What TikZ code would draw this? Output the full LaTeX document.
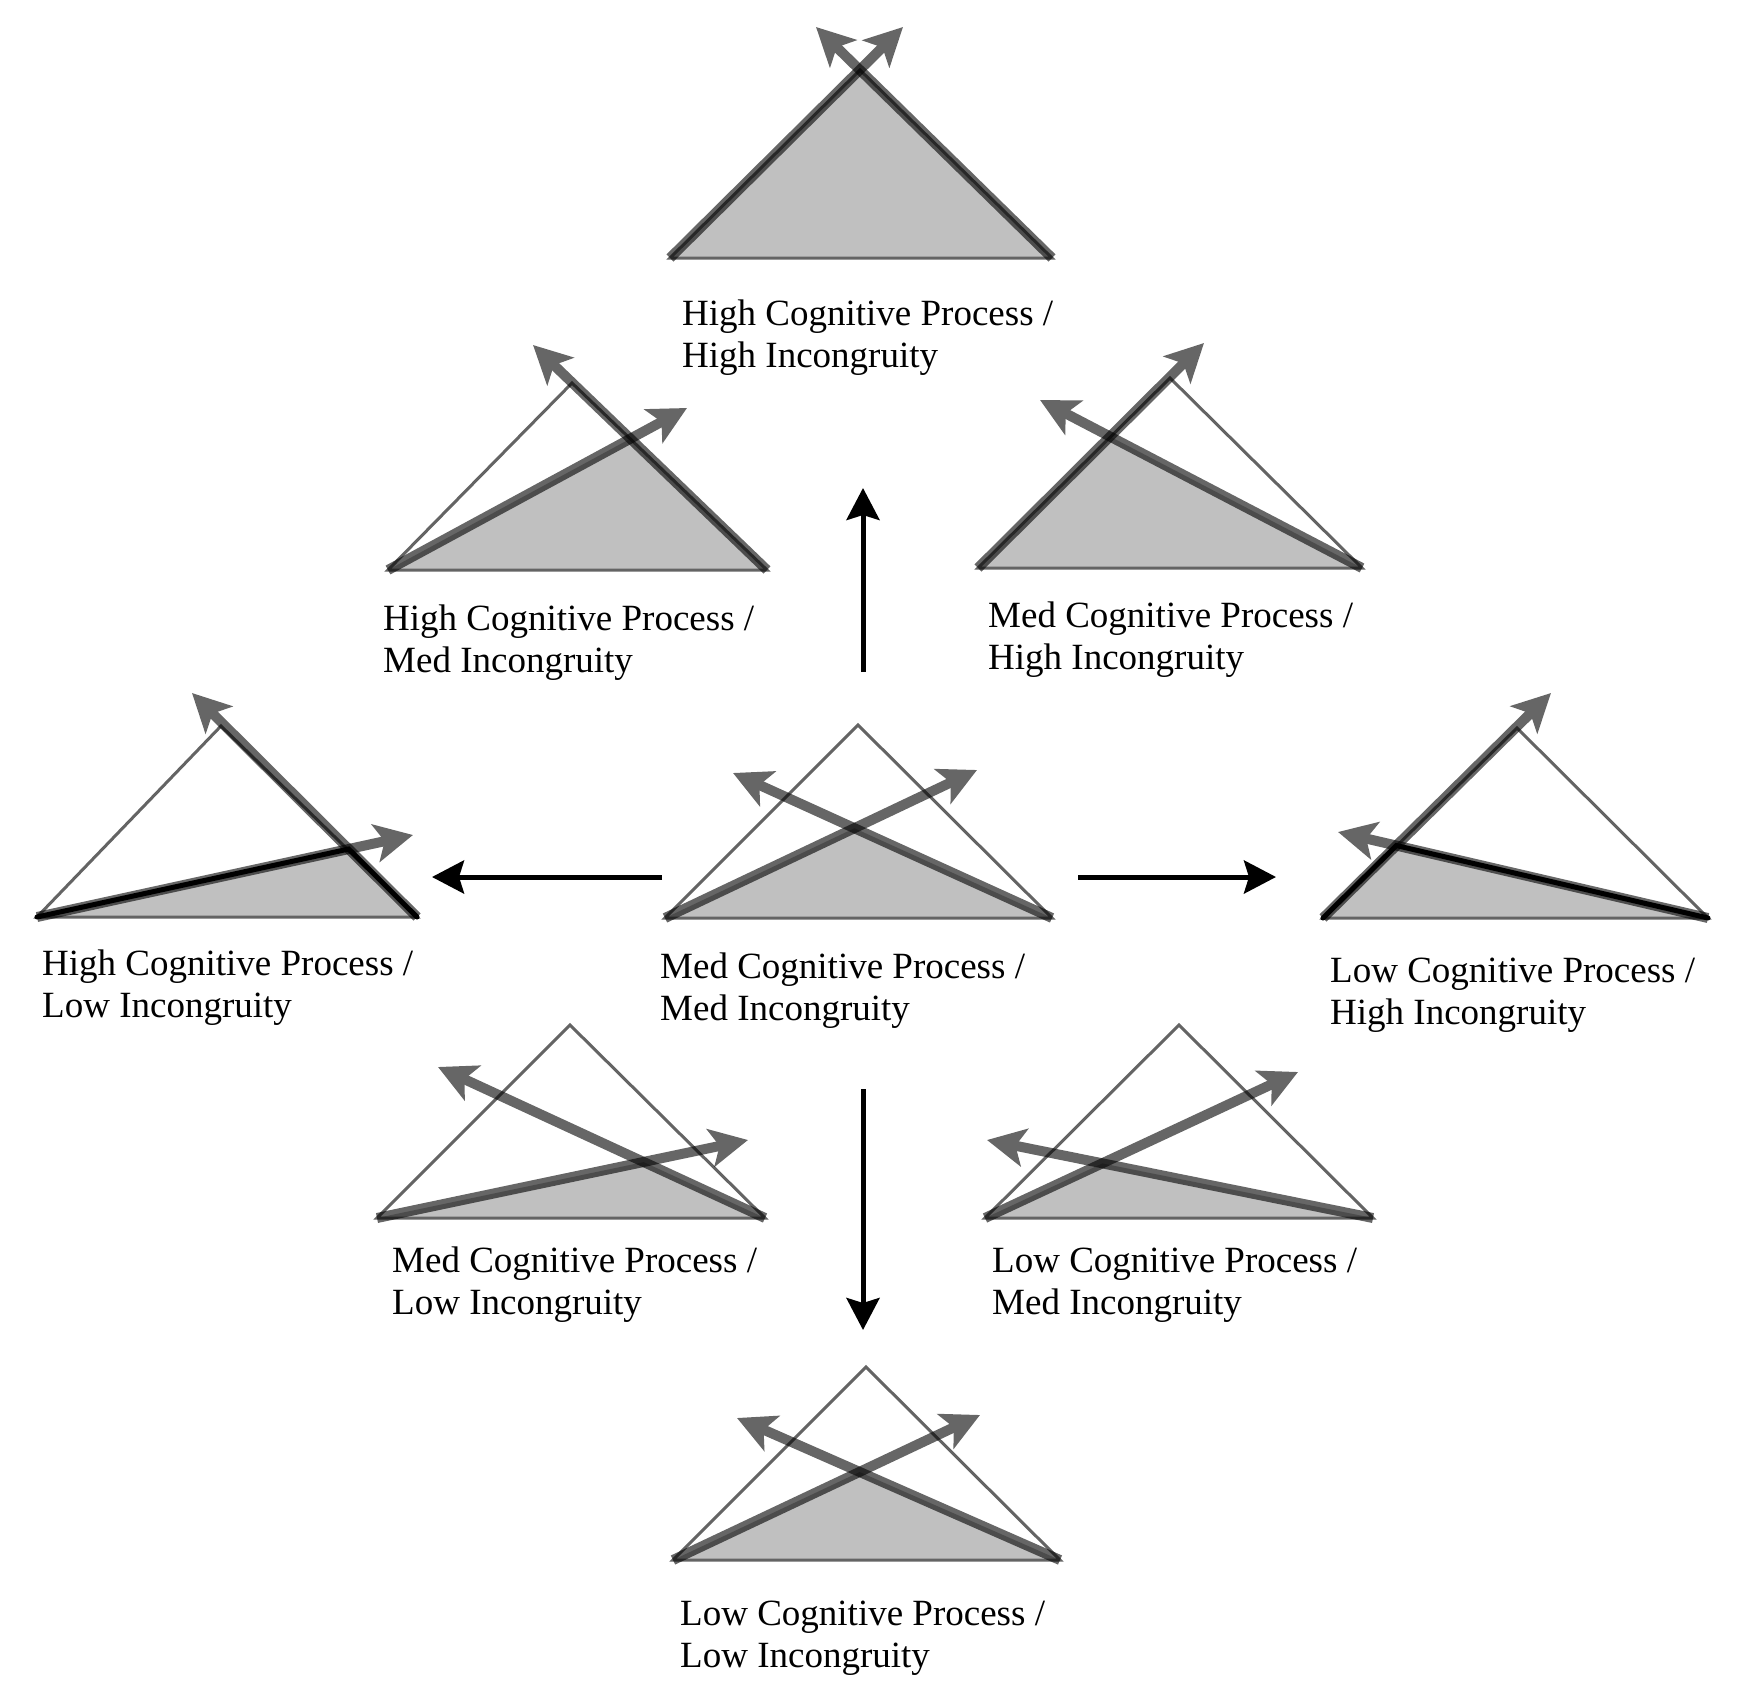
\documentclass[tikz,border=0pt]{standalone}
\usepackage{fontspec}
\setmainfont{Liberation Serif}
\usetikzlibrary{arrows.meta}
\definecolor{shadegray}{RGB}{192,192,192}
\definecolor{edgegray}{RGB}{100,100,100}
\tikzset{
  outline/.style={draw=edgegray, line width=3pt},
  garrow/.style={draw=black, line width=10pt, -{Stealth[length=38pt,width=38pt,inset=9pt]}},
  karrow/.style={draw=black, line width=5pt, -{Stealth[length=32pt,width=33pt,inset=5pt]}},
  blackedge/.style={draw=black, line width=5pt, line cap=round},
  lbl/.style={anchor=base west, inner sep=0pt, font=\fontsize{37}{42}\selectfont},
}
% #1 name, #2 L, #3 R, #4 apex, #5 tip of arrow from L, #6 tip of arrow from R
\newcommand{\humtri}[6]{%
  \coordinate (#1L) at (#2);
  \coordinate (#1R) at (#3);
  \coordinate (#1A) at (#4);
  \coordinate (#1TL) at (#5);
  \coordinate (#1TR) at (#6);
  \coordinate (#1I) at (intersection of #1L--#1TL and #1R--#1TR);
  \fill[shadegray] (#1L) -- (#1I) -- (#1R) -- cycle;
  \draw[outline] (#1L) -- (#1A) -- (#1R) -- cycle;
  \begin{scope}[transparency group, opacity=0.6]
    \draw[garrow] (#1L) -- (#1TL);
  \end{scope}
  \begin{scope}[transparency group, opacity=0.6]
    \draw[garrow] (#1R) -- (#1TR);
  \end{scope}
}
\newcommand{\humlabel}[4]{%
  \node[lbl] (#1) at (#2) {\begin{tabular}[t]{@{}l@{}}#3\\#4\end{tabular}};
}
\begin{document}
\begin{tikzpicture}[x=1pt, y=-1pt]
\useasboundingbox[fill=white] (0,0) rectangle (1737,1686);

\humtri{hh}{670,258}{1052,258}{860,70}{903,27}{816,27}
\humtri{hm}{388,570}{767,570}{572,383}{687,408}{533,345}
\humtri{mh}{978,568}{1362,568}{1170,378}{1204,343}{1040,400}
\humtri{hl}{37,917}{417,917}{221,726}{413,835}{192,693}
\draw[blackedge] (hlL) -- (hlI) -- (hlR);
\humtri{mm}{665,918}{1052,918}{858,725}{977,770}{733,773}
\humtri{lh}{1323,918}{1708,918}{1517,728}{1551,693}{1338,832}
\draw[blackedge] (lhL) -- (lhI) -- (lhR);
\humtri{ml}{377,1218}{765,1218}{570,1025}{748,1140}{438,1067}
\humtri{lm}{985,1218}{1373,1218}{1179,1025}{1298,1072}{987,1140}
\humtri{ll}{673,1560}{1060,1560}{866,1367}{980,1415}{737,1418}

\humlabel{tHH}{682,325}{High Cognitive Process /}{High Incongruity}
\humlabel{tHM}{383,630}{High Cognitive Process /}{Med Incongruity}
\humlabel{tMH}{988,627}{Med Cognitive Process /}{High Incongruity}
\humlabel{tHL}{42,975}{High Cognitive Process /}{Low Incongruity}
\humlabel{tMM}{660,978}{Med Cognitive Process /}{Med Incongruity}
\humlabel{tLH}{1330,982}{Low Cognitive Process /}{High Incongruity}
\humlabel{tML}{392,1272}{Med Cognitive Process /}{Low Incongruity}
\humlabel{tLM}{992,1272}{Low Cognitive Process /}{Med Incongruity}
\humlabel{tLL}{680,1625}{Low Cognitive Process /}{Low Incongruity}

\coordinate (upS) at (863,672);
\coordinate (upE) at (863,488);
\coordinate (leftS) at (662,877);
\coordinate (leftE) at (432,877);
\coordinate (rightS) at (1078,877);
\coordinate (rightE) at (1276,877);
\coordinate (downS) at (863,1089);
\coordinate (downE) at (863,1330);
\draw[karrow] (upS) -- (upE);
\draw[karrow] (leftS) -- (leftE);
\draw[karrow] (rightS) -- (rightE);
\draw[karrow] (downS) -- (downE);
\end{tikzpicture}
\end{document}
